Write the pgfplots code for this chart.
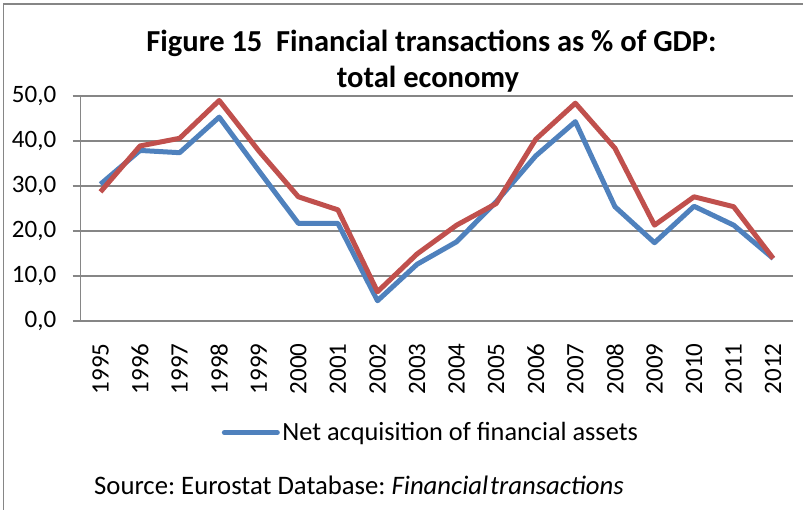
\documentclass[border=0pt]{standalone}
\usepackage{pgfplots}
\pgfplotsset{compat=1.18}
\usepackage{fontspec}
\setmainfont{Carlito}
\frenchspacing
\definecolor{exblue}{HTML}{4F81BD}
\definecolor{exred}{HTML}{C0504D}
\definecolor{exgray}{RGB}{134,134,134}
\pgfplotstableread{
x year blue red
0 1995 30.4 28.7
1 1996 37.9 38.9
2 1997 37.4 40.6
3 1998 45.3 49.0
4 1999 33.4 37.8
5 2000 21.7 27.6
6 2001 21.7 24.7
7 2002 4.5 6.5
8 2003 12.6 14.9
9 2004 17.6 21.3
10 2005 26.5 26.1
11 2006 36.7 40.4
12 2007 44.3 48.4
13 2008 25.4 38.4
14 2009 17.4 21.3
15 2010 25.5 27.6
16 2011 21.3 25.4
17 2012 13.9 13.9
}\datatable
\begin{document}
\begin{tikzpicture}[x=1pt,y=1pt]
\useasboundingbox (0,0) rectangle (803,510);
\draw[exgray, line width=1.5pt] (3.5,0) -- (3.5,506) -- (803,506);
\begin{axis}[
  at={(80.7pt,189pt)}, anchor=south west,
  scale only axis, width=712.3pt, height=225pt,
  xmin=-0.5, xmax=17.5, ymin=0, ymax=50,
  axis x line*=bottom, axis y line*=left,
  axis line style={exgray, line width=1.2pt, -},
  ytick={0,10,...,50},
  ymajorgrids, grid style={exgray, line width=1.2pt},
  xtick={0,...,17},
  xticklabels={1995,1996,1997,1998,1999,2000,2001,2002,2003,2004,2005,2006,2007,2008,2009,2010,2011,2012},
  major x tick style={draw=none},
  extra x ticks={-0.5,0.5,...,17.5},
  extra x tick labels={},
  extra x tick style={tick align=outside, major tick length=7pt, major tick style={exgray, line width=1.2pt}, grid=none},
  major y tick style={exgray, line width=1.2pt},
  tick align=outside, major tick length=8pt,
  /pgf/number format/assume math mode=true,
  xticklabel shift=11pt,
  yticklabel shift=13pt,
  xticklabel style={rotate=90, anchor=east, font=\fontsize{25}{30}\selectfont},
  yticklabel style={font=\fontsize{25}{30}\selectfont, /pgf/number format/.cd, fixed, fixed zerofill, precision=1, use comma},
  legend style={at={(0.492,-0.496)}, anchor=center, draw=none, fill=none, font=\fontsize{26.3}{30}\selectfont, inner sep=0pt, nodes={inner xsep=2.5pt}},
  legend image code/.code={\draw[#1, line cap=round] (0pt,0pt) -- (53pt,0pt);},
  clip=false,
]
\addplot[exblue, line width=5pt, line join=round] table[x=x, y=blue] {\datatable};
\addlegendentry{Net acquisition of financial assets}
\addplot[exred, line width=5pt, line join=round, forget plot] table[x=x, y=red] {\datatable};
\end{axis}
\node[font=\fontsize{30.5}{36}\selectfont\bfseries, anchor=base] at (431.5,458.3) {Figure 15\hspace{0.45em}Financial transactions as \% of GDP:};
\node[font=\fontsize{30.5}{36}\selectfont\bfseries, anchor=base] at (428,422) {total economy};
\node[font=\fontsize{26.7}{30}\selectfont, anchor=base west, inner sep=0pt] at (94,15) {Source: Eurostat Database: \textit{Financial\hspace{2pt}transactions}};
\end{tikzpicture}
\end{document}
